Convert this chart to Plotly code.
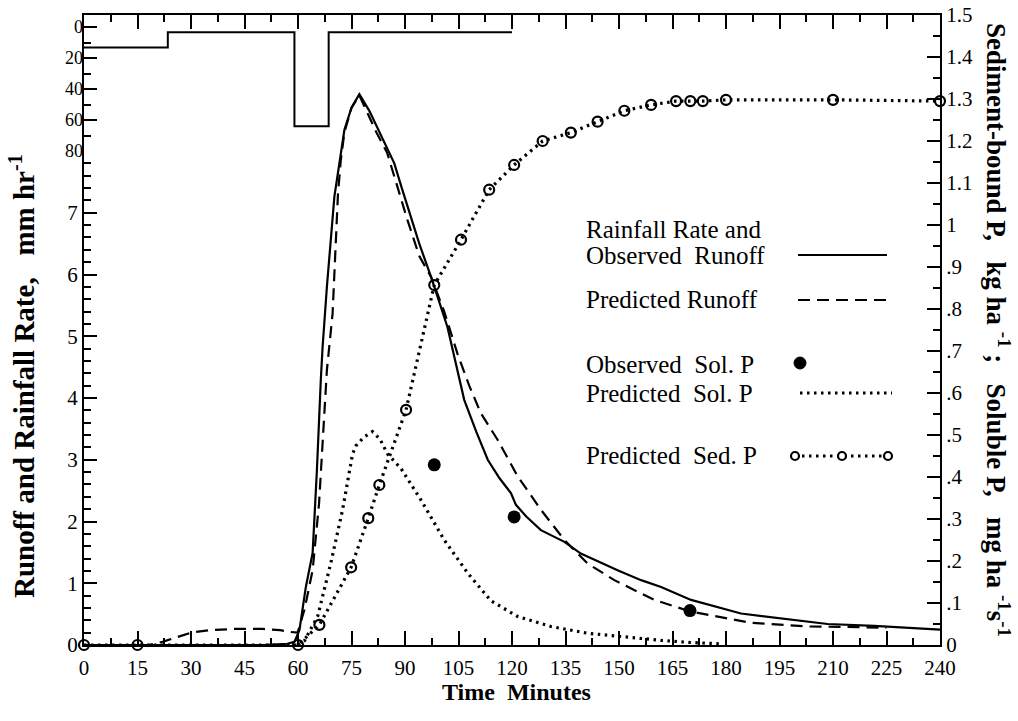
import plotly.graph_objects as go

# ---------------- data ----------------
rain_time = [0, 23.5, 59, 68.6, 120]
rain_rate = [13.3, 3.4, 64, 3.4, 3.4]           # mm/hr (inverted top axis)

obs_time = [0, 50, 57, 59, 60.4, 62.2, 64.1, 65.3, 66.4, 66.9, 68.1, 69.1, 70.2, 71.6, 73, 75,
            77.2, 80, 83.3, 87, 89, 91, 94, 97.3, 101.9, 106.6, 110, 113.2, 116.5, 119.7, 121.1,
            124, 128.1, 134.7, 139.3, 149.6, 156.2, 161.8, 170.2, 184.2, 195.4, 208.5, 221.6, 240]
obs_runoff = [0, 0, 0.02, 0.05, 0.24, 0.94, 1.49, 2.83, 4.3, 4.83, 5.8, 6.56, 7.26, 7.8, 8.34, 8.7,
              8.92, 8.65, 8.25, 7.8, 7.42, 7.05, 6.5, 5.96, 5.15, 3.97, 3.45, 3.0, 2.7, 2.46, 2.27,
              2.08, 1.86, 1.67, 1.48, 1.21, 1.05, 0.94, 0.73, 0.51, 0.43, 0.34, 0.31, 0.25]

pred_time = [0, 18, 22, 26, 30, 35, 42, 50, 55, 58, 59.9, 61.8, 64.1, 65.9, 66.9, 68.1, 69.7, 70.6,
             71.2, 72, 73, 75, 77.2, 80, 82, 85, 88.4, 90.7, 94, 97.3, 101, 104.7, 108, 111.3, 116,
             121.6, 128.1, 134.7, 141.2, 148.7, 159.9, 170.2, 187, 202.9, 216.9, 225]
pred_runoff = [0, 0, 0.05, 0.12, 0.2, 0.24, 0.26, 0.26, 0.24, 0.21, 0.2, 0.57, 1.21, 2.29, 3.37, 4.45,
               5.37, 6.45, 7.3, 7.85, 8.3, 8.7, 8.9, 8.55, 8.3, 7.97, 7.31, 6.88, 6.3, 5.96, 5.4,
               4.72, 4.2, 3.75, 3.32, 2.73, 2.19, 1.70, 1.32, 1.05, 0.73, 0.54, 0.36, 0.30, 0.29, 0.28]

solp_time = [60, 61.8, 65.5, 69.2, 72.5, 75.3, 76.3, 78.5, 80.9, 83, 85.1, 88.9, 94.5, 101, 107.6,
             114.1, 121.6, 130.9, 141.2, 154.3, 161.8, 170, 178]
solp_pred = [0, 0.01, 0.068, 0.195, 0.322, 0.455, 0.475, 0.495, 0.508, 0.49, 0.455, 0.42, 0.345,
             0.25, 0.171, 0.105, 0.068, 0.044, 0.028, 0.016, 0.011, 0.006, 0.003]

solp_obs_time = [98.2, 120.6, 169.9]
solp_obs = [0.429, 0.305, 0.082]

sedp_time = [0, 15, 60, 66, 74.9, 79.7, 82.8, 90.3, 98.2, 105.7, 113.6, 120.6, 128.6, 136.5, 144,
             151.5, 159, 166, 170, 173.5, 180, 210, 240]
sedp_pred = [0, 0, 0, 0.048, 0.185, 0.302, 0.381, 0.56, 0.857, 0.965, 1.084, 1.143, 1.2, 1.22,
             1.246, 1.272, 1.286, 1.295, 1.295, 1.295, 1.298, 1.298, 1.295]

x_ticks = list(range(0, 241, 15))
runoff_ticks = [0, 1, 2, 3, 4, 5, 6, 7]
rain_ticks = [0, 20, 40, 60, 80]
right_ticks = [round(i * 0.1, 1) for i in range(16)]
right_labels = ['0', '.1', '.2', '.3', '.4', '.5', '.6', '.7', '.8', '.9',
                '1', '1.1', '1.2', '1.3', '1.4', '1.5']

# ---------------- layout geometry ----------------
W, H = 1018, 721
L, R, T, B = 84, 78, 15, 76
PW, PH = W - L - R, H - T - B


def px(xp):
    return (xp - L) / PW


def py(yp):
    return (H - B - yp) / PH


FONT = "Liberation Serif"
BLACK = "black"
NB = "\u00a0"

fig = go.Figure()

# rainfall hyetograph (top, inverted axis)
fig.add_trace(go.Scatter(x=rain_time, y=rain_rate, yaxis="y3", mode="lines",
                         line=dict(color=BLACK, width=2, shape="hv"), cliponaxis=False))
# observed runoff
fig.add_trace(go.Scatter(x=obs_time, y=obs_runoff, mode="lines",
                         line=dict(color=BLACK, width=2.2)))
# predicted runoff
fig.add_trace(go.Scatter(x=pred_time, y=pred_runoff, mode="lines",
                         line=dict(color=BLACK, width=2.2, dash="12px,7px")))
# predicted soluble P
fig.add_trace(go.Scatter(x=solp_time, y=solp_pred, yaxis="y2", mode="lines",
                         line=dict(color=BLACK, width=3.2, dash="2.5px,4.5px")))
# predicted sediment P
fig.add_trace(go.Scatter(x=sedp_time, y=sedp_pred, yaxis="y2", mode="lines+markers",
                         line=dict(color=BLACK, width=3.2, dash="2.5px,4.5px"),
                         marker=dict(symbol="circle-open", size=10, color=BLACK,
                                     line=dict(width=2.2, color=BLACK)),
                         cliponaxis=False))
# observed soluble P
fig.add_trace(go.Scatter(x=solp_obs_time, y=solp_obs, yaxis="y2", mode="markers",
                         marker=dict(symbol="circle", size=13, color=BLACK), cliponaxis=False))

tickfont = dict(family=FONT, size=21, color=BLACK)

fig.update_layout(
    template="none",
    width=W, height=H,
    margin=dict(l=L, r=R, t=T, b=B, autoexpand=False),
    paper_bgcolor="white", plot_bgcolor="rgba(0,0,0,0)",
    showlegend=False,
    xaxis=dict(range=[0, 240], tickvals=x_ticks, ticks="inside", ticklen=14, tickwidth=1.5,
               tickcolor=BLACK, showline=True, linecolor=BLACK, linewidth=2, mirror="ticks",
               showgrid=False, zeroline=False, tickfont=tickfont, automargin=False,
               ticklabelstandoff=3,
               minor=dict(dtick=7.5, tick0=0, ticks="inside", ticklen=7, tickwidth=1.5,
                          tickcolor=BLACK, showgrid=False)),
    yaxis=dict(domain=[0, 1], range=[0, PH / 61.75], tickvals=runoff_ticks, ticks="inside",
               ticklen=13, tickwidth=1.8, tickcolor=BLACK, showline=True, linecolor=BLACK,
               linewidth=2, showgrid=False, zeroline=False, tickfont=tickfont, automargin=False,
               minor=dict(tickvals=[round(i * 0.2, 1) for i in range(1, 40) if i % 5],
                          ticks="inside", ticklen=7, tickwidth=1.5, tickcolor=BLACK,
                          showgrid=False)),
    yaxis2=dict(overlaying="y", side="right", anchor="x", range=[0, PH / 420.0],
                tickvals=right_ticks, ticktext=right_labels, ticks="inside", ticklen=13,
                tickwidth=1.8, tickcolor=BLACK, showline=True, linecolor=BLACK, linewidth=2,
                showgrid=False, zeroline=False, tickfont=tickfont, automargin=False,
                minor=dict(tickvals=[round(0.05 + i * 0.1, 2) for i in range(15)],
                           ticks="inside", ticklen=7, tickwidth=1.5, tickcolor=BLACK,
                           showgrid=False)),
    yaxis3=dict(domain=[py(151), 1], anchor="x", range=[80, -(151 - T - 80 * 1.55) / 1.55],
                tickvals=rain_ticks, ticks="inside", ticklen=13, tickwidth=1.8, tickcolor=BLACK,
                showline=False, showgrid=False, zeroline=False, automargin=False,
                tickfont=dict(family=FONT, size=18, color=BLACK),
                minor=dict(tickvals=[10, 30, 50, 70], ticks="inside", ticklen=7, tickwidth=1.5,
                           tickcolor=BLACK, showgrid=False)),
)

ann = []
# axis titles
ann.append(dict(text="<b>Time" + NB * 2 + "Minutes</b>", x=px(516), y=py(692), xref="paper",
                yref="paper", showarrow=False, font=dict(family=FONT, size=24, color=BLACK),
                xanchor="center", yanchor="middle"))
ann.append(dict(text="<b>Runoff and Rainfall Rate," + NB * 3 + "mm hr<sup>-1</sup></b>",
                x=px(22), y=py(376), xref="paper", yref="paper", showarrow=False, textangle=-90,
                font=dict(family=FONT, size=29, color=BLACK), xanchor="center", yanchor="middle"))
ann.append(dict(text="<b>Sediment-bound P," + NB * 3 + "kg ha <sup>-1</sup>" + NB + ";" + NB * 3 +
                     "Soluble P," + NB * 3 + "mg ha <sup>-1</sup>s<sup>-1</sup></b>",
                x=px(998), y=py(330), xref="paper", yref="paper", showarrow=False, textangle=90,
                font=dict(family=FONT, size=27, color=BLACK), xanchor="center", yanchor="middle"))

# legend texts
leg_font = dict(family=FONT, size=25, color=BLACK)
for txt, yp in [("Rainfall Rate and", 229), ("Observed" + NB * 2 + "Runoff", 256),
                ("Predicted Runoff", 300), ("Observed" + NB * 2 + "Sol. P", 364),
                ("Predicted" + NB * 2 + "Sol. P", 393), ("Predicted" + NB * 2 + "Sed. P", 455)]:
    ann.append(dict(text=txt, x=px(584), y=py(yp), xref="paper", yref="paper", showarrow=False,
                    font=leg_font, xanchor="left", yanchor="middle"))
fig.update_layout(annotations=ann)

# legend keys
shapes = []
shapes.append(dict(type="line", xref="paper", yref="paper", x0=px(798), x1=px(887),
                   y0=py(255), y1=py(255), line=dict(color=BLACK, width=2.2)))
shapes.append(dict(type="line", xref="paper", yref="paper", x0=px(798), x1=px(887),
                   y0=py(300), y1=py(300), line=dict(color=BLACK, width=2.2, dash="12px,7px")))
shapes.append(dict(type="circle", xref="paper", yref="paper", x0=px(794), x1=px(806),
                   y0=py(369), y1=py(357), fillcolor=BLACK, line=dict(color=BLACK, width=1)))
shapes.append(dict(type="line", xref="paper", yref="paper", x0=px(800), x1=px(892),
                   y0=py(393), y1=py(393), line=dict(color=BLACK, width=3.2, dash="2.5px,4.5px")))
shapes.append(dict(type="line", xref="paper", yref="paper", x0=px(795), x1=px(888),
                   y0=py(456), y1=py(456), line=dict(color=BLACK, width=3.2, dash="2.5px,4.5px")))
for cx in (795, 842, 888):
    shapes.append(dict(type="circle", xref="paper", yref="paper", x0=px(cx - 4), x1=px(cx + 4),
                       y0=py(460), y1=py(452), fillcolor="white",
                       line=dict(color=BLACK, width=2.2)))
fig.update_layout(shapes=shapes)

fig.write_html("out.html")
